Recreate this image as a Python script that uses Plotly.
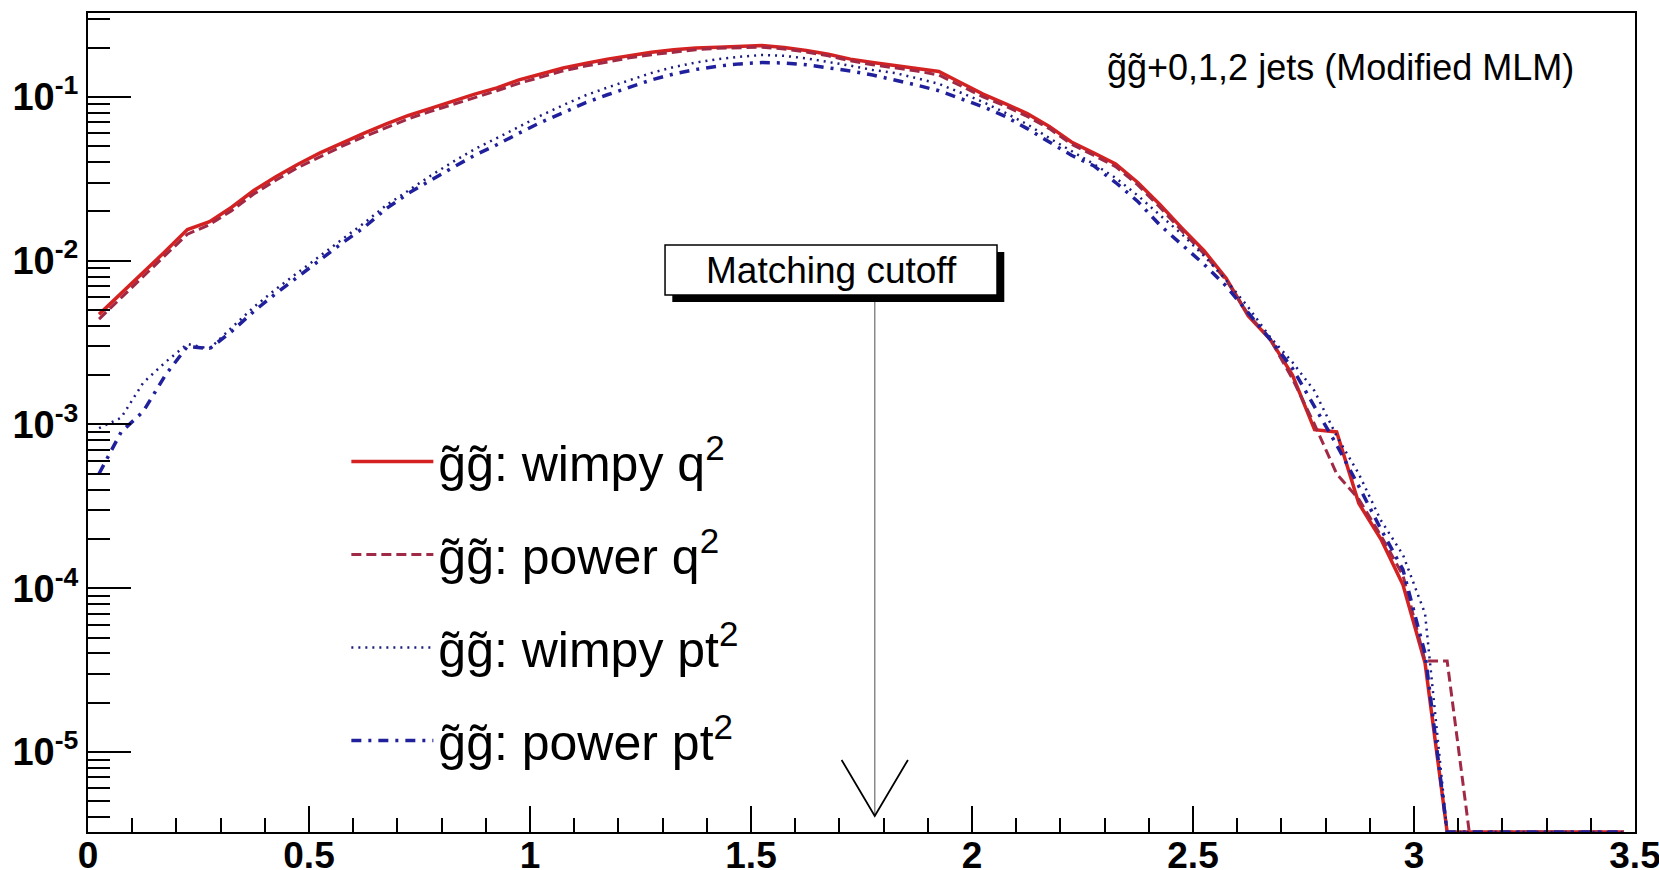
import numpy as np
import plotly.graph_objects as go

# ---------------- data ----------------
BIN_CENTERS = [
    0.025, 0.075, 0.125, 0.175, 0.225, 0.275, 0.325, 0.375, 0.425, 0.475,
    0.525, 0.575, 0.625, 0.675, 0.725, 0.775, 0.825, 0.875, 0.925, 0.975,
    1.025, 1.075, 1.125, 1.175, 1.225, 1.275, 1.325, 1.375, 1.425, 1.475,
    1.525, 1.575, 1.625, 1.675, 1.725, 1.775, 1.825, 1.875, 1.925, 1.975,
    2.025, 2.075, 2.125, 2.175, 2.225, 2.275, 2.325, 2.375, 2.425, 2.475,
    2.525, 2.575, 2.625, 2.675, 2.725, 2.775, 2.825, 2.875, 2.925, 2.975,
    3.025, 3.075, 3.125, 3.175, 3.225, 3.275, 3.325, 3.375, 3.425, 3.475,
]

WIMPY_Q2 = [
    0.0047, 0.0063, 0.0085, 0.0114, 0.0155, 0.0173, 0.0212, 0.0268, 0.0325, 0.0388,
    0.0455, 0.0525, 0.0600, 0.0685, 0.0770, 0.0850, 0.0940, 0.1040, 0.1135, 0.1270,
    0.1380, 0.1500, 0.1600, 0.1700, 0.1780, 0.1870, 0.1940, 0.1990, 0.2010, 0.2030,
    0.2060, 0.2000, 0.1920, 0.1820, 0.1700, 0.1620, 0.1550, 0.1500, 0.1430, 0.1220,
    0.1040, 0.0910, 0.0790, 0.0660, 0.0530, 0.0455, 0.0390, 0.0300, 0.0220, 0.0158,
    0.0115, 0.0078, 0.0046, 0.0033, 0.0020, 0.00093, 0.00090, 0.00033, 0.00020, 0.000105,
    0.000035, 0, 0, 0, 0, 0, 0, 0, 0, 0,
]

POWER_Q2 = [
    0.0044, 0.0059, 0.0080, 0.0108, 0.0145, 0.0166, 0.0202, 0.0255, 0.0310, 0.0370,
    0.0432, 0.0500, 0.0572, 0.0650, 0.0735, 0.0815, 0.0895, 0.0990, 0.1090, 0.1210,
    0.1320, 0.1440, 0.1540, 0.1640, 0.1730, 0.1810, 0.1880, 0.1940, 0.1980, 0.2000,
    0.2010, 0.1960, 0.1880, 0.1780, 0.1660, 0.1570, 0.1500, 0.1440, 0.1360, 0.1160,
    0.1000, 0.0880, 0.0760, 0.0640, 0.0515, 0.0440, 0.0375, 0.0290, 0.0212, 0.0152,
    0.0110, 0.0076, 0.0047, 0.0033, 0.0019, 0.00100, 0.00050, 0.00035, 0.00021, 0.00012,
    0.000036, 0.000036, 0, 0, 0, 0, 0, 0, 0, 0,
]

WIMPY_PT2 = [
    0.00095, 0.00110, 0.00180, 0.00240, 0.00310, 0.00290, 0.00390, 0.00520, 0.00670, 0.00850,
    0.0107, 0.0135, 0.0170, 0.0218, 0.0268, 0.0330, 0.0400, 0.0480, 0.0560, 0.0660,
    0.0770, 0.0890, 0.1020, 0.1140, 0.1270, 0.1400, 0.1520, 0.1620, 0.1700, 0.1760,
    0.1800, 0.1780, 0.1720, 0.1640, 0.1550, 0.1460, 0.1400, 0.1300, 0.1200, 0.1060,
    0.0930, 0.0800, 0.0680, 0.0560, 0.0470, 0.0390, 0.0320, 0.0250, 0.0190, 0.0145,
    0.0107, 0.0076, 0.0052, 0.0034, 0.0024, 0.0016, 0.00085, 0.00050, 0.00026, 0.00016,
    0.00007, 0, 0, 0, 0, 0, 0, 0, 0, 0,
]

POWER_PT2 = [
    0.00050, 0.00090, 0.00120, 0.00200, 0.00300, 0.00290, 0.00370, 0.00490, 0.00630, 0.00800,
    0.0102, 0.0128, 0.0160, 0.0208, 0.0258, 0.0310, 0.0370, 0.0440, 0.0510, 0.0600,
    0.0700, 0.0800, 0.0920, 0.1030, 0.1150, 0.1270, 0.1380, 0.1470, 0.1540, 0.1590,
    0.1620, 0.1610, 0.1570, 0.1510, 0.1440, 0.1360, 0.1270, 0.1180, 0.1090, 0.0980,
    0.0870, 0.0760, 0.0640, 0.0530, 0.0440, 0.0380, 0.0300, 0.0230, 0.0165, 0.0125,
    0.0095, 0.0070, 0.0048, 0.0033, 0.0022, 0.0013, 0.00075, 0.00042, 0.00023, 0.00013,
    0.00004, 0, 0, 0, 0, 0, 0, 0, 0, 0,
]

SERIES_NAMES = [
    "g\u0303g\u0303: wimpy q<sup>2</sup>",
    "g\u0303g\u0303: power q<sup>2</sup>",
    "g\u0303g\u0303: wimpy pt<sup>2</sup>",
    "g\u0303g\u0303: power pt<sup>2</sup>",
]
X_TICKS = [0, 0.5, 1, 1.5, 2, 2.5, 3, 3.5]
X_TICK_LABELS = ["0", "0.5", "1", "1.5", "2", "2.5", "3", "3.5"]
Y_TICKS = [1e-5, 1e-4, 1e-3, 1e-2, 1e-1]
Y_TICK_LABELS = ["10<sup>-5</sup>", "10<sup>-4</sup>", "10<sup>-3</sup>",
                 "10<sup>-2</sup>", "10<sup>-1</sup>"]
TITLE_TEXT = "g\u0303g\u0303+0,1,2 jets (Modified MLM)"
CUTOFF_LABEL = "Matching cutoff"
CUTOFF_X = 1.78

# ---------------- styling ----------------
X_RANGE = [0, 3.5]
Y_LOG_RANGE = [-5.488, -0.488]
FONT = "Liberation Sans, Arial, Helvetica, sans-serif"
STYLES = [
    dict(color="#d42222", width=3.5, dash="solid"),
    dict(color="#a02a46", width=3, dash="10px,5px"),
    dict(color="#1c1c80", width=2.5, dash="2px,5px"),
    dict(color="#20209c", width=3.5, dash="10px,7px,3px,7px"),
]

floor_val = 10 ** Y_LOG_RANGE[0]
fig = go.Figure()
for name, vals, st in zip(SERIES_NAMES, [WIMPY_Q2, POWER_Q2, WIMPY_PT2, POWER_PT2], STYLES):
    v = np.array(vals, dtype=float)
    y = np.where(v > 0, v, floor_val)
    fig.add_trace(go.Scatter(
        x=BIN_CENTERS, y=y, mode="lines", name=name, legendgroup=name,
        line=dict(color=st["color"], width=st["width"], dash=st["dash"]),
        hoverinfo="skip",
    ))

minor_y = [m * 10.0 ** e for e in range(-6, 0) for m in range(2, 10)]

fig.update_layout(
    width=1659, height=870,
    margin=dict(l=88, r=24, t=13, b=38, pad=0),
    paper_bgcolor="white", plot_bgcolor="white",
    font=dict(family=FONT, color="black"),
    showlegend=True,
    legend=dict(
        x=0.167, y=0.5, xanchor="left", yanchor="top",
        bgcolor="rgba(0,0,0,0)", borderwidth=0,
        font=dict(size=50, family=FONT, color="black"),
        tracegroupgap=25, traceorder="grouped", itemwidth=82,
    ),
    xaxis=dict(
        range=X_RANGE, tickmode="array", tickvals=X_TICKS, ticktext=X_TICK_LABELS,
        ticks="inside", ticklen=26, tickwidth=2, tickcolor="black",
        minor=dict(ticks="inside", ticklen=14, tickwidth=2, tickcolor="black",
                   dtick=0.1, tick0=0, showgrid=False),
        showline=True, linewidth=2, linecolor="black", mirror=True,
        showgrid=False, zeroline=False, automargin=False,
        ticklabeloverflow="allow", ticklabelstandoff=-10,
        tickfont=dict(size=37, family=FONT, color="black", weight="bold"),
    ),
    yaxis=dict(
        type="log", range=Y_LOG_RANGE, tickmode="array", tickvals=Y_TICKS,
        ticktext=Y_TICK_LABELS,
        ticks="inside", ticklen=43, tickwidth=2, tickcolor="black",
        minor=dict(ticks="inside", ticklen=22, tickwidth=2, tickcolor="black",
                   tickmode="array", tickvals=minor_y, showgrid=False),
        showline=True, linewidth=2, linecolor="black", mirror=True,
        showgrid=False, zeroline=False, automargin=False,
        ticklabeloverflow="allow",
        tickfont=dict(size=38, family=FONT, color="black", weight="bold"),
    ),
)

# top-right label
fig.add_annotation(
    text=TITLE_TEXT, xref="paper", yref="paper", x=0.962, y=0.933,
    xanchor="right", yanchor="middle", showarrow=False,
    font=dict(size=36, family=FONT, color="black"),
)

# Matching cutoff box with shadow
box = dict(x0=0.3730, x1=0.5876, y0=0.6557, y1=0.7167)
shadow_dx, shadow_dy = 0.0047, 0.0085
fig.add_shape(type="rect", xref="paper", yref="paper",
              x0=box["x0"] + shadow_dx, x1=box["x1"] + shadow_dx,
              y0=box["y0"] - shadow_dy, y1=box["y1"] - shadow_dy,
              fillcolor="black", line=dict(width=0))
fig.add_shape(type="rect", xref="paper", yref="paper",
              x0=box["x0"], x1=box["x1"], y0=box["y0"], y1=box["y1"],
              fillcolor="white", line=dict(color="black", width=1.5))
fig.add_annotation(
    text=CUTOFF_LABEL, xref="paper", yref="paper",
    x=(box["x0"] + box["x1"]) / 2, y=(box["y0"] + box["y1"]) / 2,
    xanchor="center", yanchor="middle", showarrow=False,
    font=dict(size=37, family=FONT, color="black"),
)

# arrow pointing to the cutoff
tip_y, head_y = 0.0195, 0.088
head_dx = 0.075
fig.add_shape(type="line", xref="x", yref="paper",
              x0=CUTOFF_X, x1=CUTOFF_X, y0=box["y0"] - shadow_dy, y1=tip_y,
              line=dict(color="#8a8a8a", width=1.5))
fig.add_shape(type="path", xref="x", yref="paper",
              path=(f"M {CUTOFF_X - head_dx},{head_y} L {CUTOFF_X},{tip_y} "
                    f"L {CUTOFF_X + head_dx},{head_y}"),
              line=dict(color="black", width=1.8))

fig.write_html("out.html")
